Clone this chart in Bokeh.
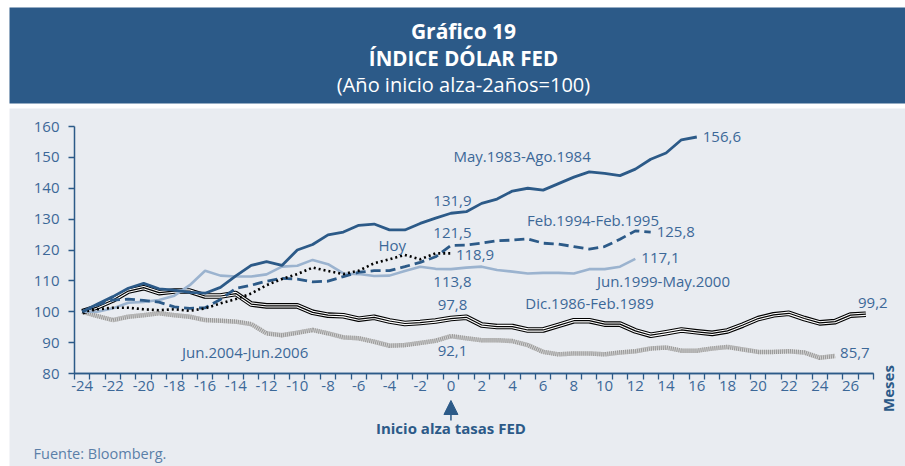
import math
from bokeh.plotting import figure
from bokeh.models import Range1d, FixedTicker, Label, BoxAnnotation, Arrow, NormalHead, LinearAxis
from bokeh.embed import file_html
from bokeh.resources import INLINE

# ---------------- data ----------------
start_month = -24
may83 = [100, 102.5, 104.9, 107.6, 109.2, 107.4, 107.0, 106.3, 106.0, 107.9,
         111.6, 115.0, 116.2, 115.0, 120.0, 121.8, 124.9, 125.8, 128.0, 128.4,
         126.5, 126.5, 128.6, 130.3, 131.9,
         132.4, 135.1, 136.5, 139.1, 140.0, 139.4, 141.5, 143.6, 145.3, 144.8,
         144.1, 146.2, 149.4, 151.4, 155.7, 156.6]
feb94 = [100, 102.2, 103.8, 104.1, 103.7, 103.1, 101.6, 101.1, 101.3, 104.0,
         107.6, 108.6, 109.9, 110.8, 110.6, 109.7, 109.9, 111.4, 112.8, 113.3,
         113.3, 114.6, 116.0, 117.8, 121.5,
         121.6, 122.2, 123.0, 123.2, 123.6, 122.2, 121.9, 121.1, 120.3, 121.1,
         123.5, 126.2, 125.8]
jun99 = [100, 100.0, 101.1, 102.9, 103.2, 103.8, 105.2, 108.6, 113.3, 111.7,
         111.4, 111.4, 112.1, 114.6, 114.9, 116.8, 115.4, 112.4, 112.2, 111.6,
         111.7, 113.2, 114.6, 113.9, 113.8,
         114.3, 114.6, 113.5, 113.0, 112.4, 112.6, 112.6, 112.4, 113.8, 113.8,
         114.6, 117.1]
dic86 = [100, 101.6, 103.8, 106.7, 107.8, 106.2, 106.7, 106.7, 105.1, 105.1,
         105.9, 102.5, 101.9, 101.9, 101.9, 99.8, 98.9, 98.7, 97.6, 98.2,
         97.0, 96.2, 96.5, 97.0, 97.8,
         98.2, 95.7, 95.2, 95.2, 94.1, 94.1, 95.6, 97.1, 97.1, 96.0,
         96.0, 93.8, 92.4, 93.2, 94.1, 93.5, 93.0, 93.8, 95.7, 97.8,
         99.0, 99.5, 97.8, 96.4, 96.8, 98.9, 99.2]
jun04 = [100, 98.6, 97.3, 98.4, 98.9, 99.5, 98.9, 98.4, 97.3, 97.1,
         96.8, 96.0, 93.0, 92.4, 93.2, 94.1, 93.0, 91.7, 91.4, 90.3,
         89.0, 89.2, 89.9, 90.6, 92.1,
         91.4, 90.8, 90.8, 90.5, 89.2, 87.0, 86.2, 86.5, 86.5, 86.2,
         86.8, 87.2, 88.1, 88.4, 87.4, 87.4, 88.1, 88.6, 87.8, 87.0,
         87.0, 87.2, 86.8, 85.1, 85.7]
hoy = [100, 100.8, 101.3, 101.3, 100.8, 100.5, 100.8, 100.3, 101.1, 102.7,
       104.1, 105.9, 108.6, 110.6, 112.2, 114.3, 113.2, 112.2, 113.3, 115.7,
       117.0, 118.4, 117.0, 118.9, 118.9]

x_tick_labels = list(range(-24, 27, 2))
y_tick_labels = list(range(80, 161, 10))
series_names = ["May.1983-Ago.1984", "Feb.1994-Feb.1995", "Jun.1999-May.2000",
                "Dic.1986-Feb.1989", "Jun.2004-Jun.2006", "Hoy"]

def months(vals):
    return list(range(start_month, start_month + len(vals)))

def fmt(v):
    return f"{v:.1f}".replace(".", ",")

# ---------------- layout ----------------
W, H = 905, 466
# pixel box of the axes area on the canvas
AL, AR, AT, AB = 74, 873, 126, 373
XMIN, XMAX = -24.5, 27.5
YMIN, YMAX = 80, 160
SX = (AR - AL) / (XMAX - XMIN)
SY = (AB - AT) / (YMAX - YMIN)
X0 = XMIN - AL / SX
X1 = XMAX + (W - AR) / SX
Y1 = YMAX + AT / SY
Y0 = YMIN - (H - AB) / SY

def X(px):
    return X0 + px / SX

def Y(py):
    return Y1 - py / SY

DARK = "#2C5A88"
TXT = "#3C6898"
LIGHT = "#9BB3CF"
PANEL = "#E9ECF1"
FONT = "Open Sans"

p = figure(width=W, height=H, x_range=Range1d(X0, X1), y_range=Range1d(Y0, Y1),
           output_backend="svg", toolbar_location=None,
           min_border=0, min_border_left=0, min_border_right=0,
           min_border_top=0, min_border_bottom=0)
p.outline_line_color = None
p.grid.visible = False
p.background_fill_color = "white"
p.border_fill_color = "white"

# panels
p.add_layout(BoxAnnotation(left=X(9), right=X(W + 5), top=Y(108), bottom=Y(H + 5),
                           fill_color=PANEL, fill_alpha=1, line_color=None, level="underlay"))
p.add_layout(BoxAnnotation(left=X(9), right=X(W + 5), top=Y(7), bottom=Y(103),
                           fill_color=DARK, fill_alpha=1, line_color=None, level="underlay"))

# x axis: labels at even months
xa = p.xaxis[0]
xa.fixed_location = YMIN
xa.bounds = (XMIN, XMAX)
xa.ticker = FixedTicker(ticks=x_tick_labels)
xa.major_label_overrides = {t: str(t) for t in x_tick_labels}
xa.major_tick_out = 0
xa.major_tick_in = 0
xa.minor_tick_out = 0
xa.minor_tick_in = 0
xa.axis_line_color = DARK
xa.axis_line_width = 1.5
xa.major_label_standoff = 7
xa.major_label_text_font = FONT
xa.major_label_text_font_size = "15px"
xa.major_label_text_color = TXT

# x axis tick marks between months
half_months = [m + 0.5 for m in range(-25, 28)]
xt = LinearAxis(fixed_location=YMIN, bounds=(XMIN, XMAX),
                ticker=FixedTicker(ticks=half_months),
                major_label_overrides={t: "" for t in half_months},
                major_tick_out=6, major_tick_in=0, minor_tick_out=0, minor_tick_in=0,
                major_tick_line_color=DARK, major_tick_line_width=1.3,
                axis_line_color=DARK, axis_line_width=1.5,
                major_label_text_font_size="1px")
p.add_layout(xt, "below")

ya = p.yaxis[0]
ya.fixed_location = XMIN
ya.bounds = (YMIN, YMAX)
ya.ticker = FixedTicker(ticks=y_tick_labels)
ya.major_tick_out = 6
ya.major_tick_in = 0
ya.minor_tick_out = 0
ya.minor_tick_in = 0
ya.major_tick_line_color = DARK
ya.major_tick_line_width = 1.3
ya.axis_line_color = DARK
ya.axis_line_width = 1.5
ya.major_label_standoff = 9
ya.major_label_text_font = FONT
ya.major_label_text_font_size = "15px"
ya.major_label_text_color = TXT

# series
xs = months(jun04)
p.line(xs, jun04, line_color="#D2D2D2", line_width=4.5)
p.line(xs, jun04, line_color="#989898", line_width=4.5, line_dash="1 1")

xs = months(dic86)
p.line(xs, dic86, line_color="black", line_width=5.6, line_join="round")
p.line(xs, dic86, line_color="white", line_width=3.4, line_join="round")
p.line(xs, dic86, line_color="black", line_width=1.2, line_join="round")

p.line(months(jun99), jun99, line_color=LIGHT, line_width=2.6)
p.line(months(feb94), feb94, line_color=DARK, line_width=2.8, line_dash="10 5")
p.line(months(hoy), hoy, line_color="black", line_width=2.6, line_dash="2 3")
p.line(months(may83), may83, line_color=DARK, line_width=2.8)

def lab(x, y, text, xo=0, yo=0, align="left", size="15px", bold=False, color=TXT, angle=0):
    p.add_layout(Label(x=x, y=y, text=text, x_offset=xo, y_offset=yo,
                       text_align=align, text_baseline="middle", text_font=FONT,
                       text_font_size=size, text_color=color,
                       text_font_style="bold" if bold else "normal", angle=angle))

# end-of-line values
for vals, xo, yo, align in [(may83, 6, 0, "left"), (feb94, 6, 0, "left"), (jun99, 6, 1, "left"),
                            (hoy, 5, -2, "left"), (jun04, 5, 3, "left"), (dic86, 7, 11, "center")]:
    lab(months(vals)[-1], vals[-1], fmt(vals[-1]), xo, yo, align)

# values at month 0
for vals, yo in [(may83, 12), (feb94, 12.5), (jun99, -12.5), (dic86, 14), (jun04, -15)]:
    i = months(vals).index(0)
    lab(0, vals[i], fmt(vals[i]), 1.5, yo, "center")

# series names
name_pos = [(0.16, 150.5), (4.95, 129.7), (9.5, 110.0), (4.84, 102.9), (-17.5, 87.0), (-4.72, 121.5)]
for name, (nx, ny) in zip(series_names, name_pos):
    lab(nx, ny, name)

# header texts
lab(X(463), Y(30), "Gráfico 19", align="center", size="21px", bold=True, color="white")
lab(X(463), Y(57), "ÍNDICE DÓLAR FED", align="center", size="20.5px", bold=True, color="white")
lab(X(463), Y(84), "(Año inicio alza-2años=100)", align="center", size="20px", color="white")

# bottom annotations
p.add_layout(Arrow(end=NormalHead(size=14, fill_color=DARK, line_color=DARK),
                   x_start=0, y_start=Y(420), x_end=0, y_end=Y(400),
                   line_color=DARK, line_width=1.5))
lab(0, Y(427), "Inicio alza tasas FED", align="center", bold=True, color=DARK)
lab(X(33), Y(453), "Fuente: Bloomberg.", size="14.5px", color="#5B7FA8")
lab(X(887), Y(388), "Meses", align="center", bold=True, color=DARK, angle=math.pi / 2)

open("out.html", "w").write(file_html(p, INLINE))
